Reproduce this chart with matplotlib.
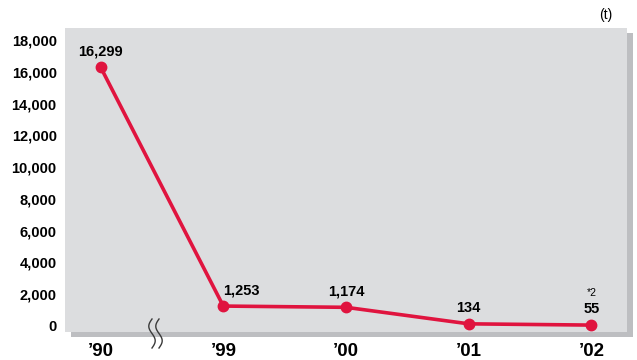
import numpy as np
import matplotlib.pyplot as plt
from matplotlib.patches import Rectangle

plt.rcParams['font.family'] = ['Liberation Sans', 'DejaVu Sans']

years = ["’90", "’99", "’00", "’01", "’02"]
amounts = [16299, 1253, 1174, 134, 55]
amount_labels = ["16,299", "1,253", "1,174", "134", "55"]
yticks = [0, 2000, 4000, 6000, 8000, 10000, 12000, 14000, 16000, 18000]

W, H = 637, 360
fig = plt.figure(figsize=(W / 100, H / 100), dpi=100)
fig.patch.set_facecolor("white")

left, right, top, bottom = 65, 627, 28, 332
ax = fig.add_axes([left / W, 1 - bottom / H, (right - left) / W, (bottom - top) / H])

# drop shadow behind the plot panel
fig.patches.append(Rectangle(((left + 6) / W, 1 - (bottom + 5) / H),
                             (right - left) / W, (bottom - top) / H,
                             transform=fig.transFigure, facecolor="#bdbec1",
                             edgecolor="none", zorder=0))
ax.set_zorder(1)
ax.set_facecolor("#dcdddf")

red = "#e0143f"
x = list(range(len(years)))
ax.plot(x, amounts, color=red, lw=2.6, marker="o", ms=7.5, zorder=3)

for i, (xi, v, lab) in enumerate(zip(x, amounts, amount_labels)):
    # the '99 label sits to the right so it stays clear of the steep segment
    ha = "left" if i == 1 else "center"
    ax.annotate(lab, (xi, v), xytext=(0, 11.5), textcoords="offset points",
                ha=ha, va="center", fontsize=10.5, fontweight="bold")
ax.annotate("*2", (x[-1], amounts[-1]), xytext=(0, 23), textcoords="offset points",
            ha="center", va="center", fontsize=7.5)

ax.set_xlim(-0.29, 4.29)
ax.set_ylim(-380, 18760)
ax.set_yticks(yticks)
ax.set_yticklabels([f"{t:,}" for t in yticks], fontsize=10.5, fontweight="bold")
ax.set_xticks(x)
ax.set_xticklabels(years, fontsize=13.5, fontweight="bold")
ax.tick_params(length=0)
ax.tick_params(axis="y", pad=6)
ax.tick_params(axis="x", pad=8)
for s in ax.spines.values():
    s.set_visible(False)

# axis break mark: two wavy strokes across the bottom edge between '90 and '99
s = np.linspace(0, 1, 60)
for dx in (-3.5, 3.5):
    bx = (155.5 + dx - 3.2 * np.sin(2 * np.pi * s)) / W
    by = 1 - (319 + 29 * s) / H
    fig.add_artist(plt.Line2D(bx, by, transform=fig.transFigure, color="#3a3a3a",
                              lw=1.0, zorder=5))

fig.text(606 / W, 1 - 15 / H, "(t)", ha="center", va="center", fontsize=10)

fig.savefig("out.png", dpi=100)
